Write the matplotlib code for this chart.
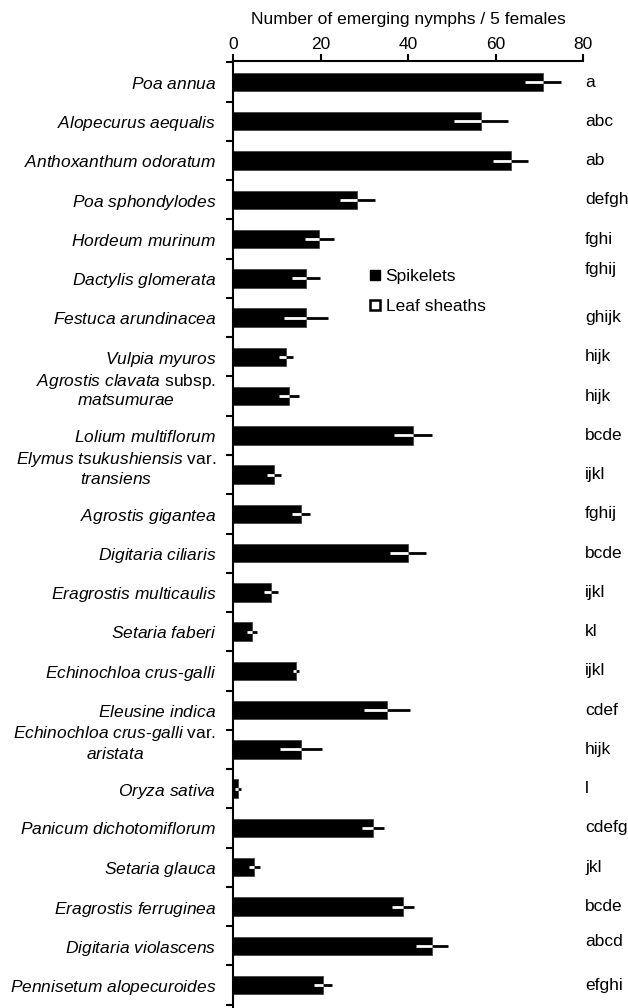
import matplotlib
matplotlib.use("Agg")
import matplotlib.pyplot as plt
from matplotlib.lines import Line2D
from matplotlib.transforms import ScaledTranslation

plt.rcParams['font.family'] = ['Liberation Sans', 'DejaVu Sans']
plt.rcParams['mathtext.fontset'] = 'custom'
plt.rcParams['mathtext.rm'] = 'Liberation Sans'
plt.rcParams['mathtext.it'] = 'Liberation Sans:italic'

species = [
    r"$\mathit{Poa\ annua}$",
    r"$\mathit{Alopecurus\ aequalis}$",
    r"$\mathit{Anthoxanthum\ odoratum}$",
    r"$\mathit{Poa\ sphondylodes}$",
    r"$\mathit{Hordeum\ murinum}$",
    r"$\mathit{Dactylis\ glomerata}$",
    r"$\mathit{Festuca\ arundinacea}$",
    r"$\mathit{Vulpia\ myuros}$",
    "$\\mathit{Agrostis\\ clavata}\\mathrm{\\ subsp.}$\n$\\mathit{matsumurae}$",
    r"$\mathit{Lolium\ multiflorum}$",
    "$\\mathit{Elymus\\ tsukushiensis}\\mathrm{\\ var.}$\n$\\mathit{transiens}$",
    r"$\mathit{Agrostis\ gigantea}$",
    r"$\mathit{Digitaria\ ciliaris}$",
    r"$\mathit{Eragrostis\ multicaulis}$",
    r"$\mathit{Setaria\ faberi}$",
    r"$\mathit{Echinochloa\ crus\text{-}galli}$",
    r"$\mathit{Eleusine\ indica}$",
    "$\\mathit{Echinochloa\\ crus\\text{-}galli}\\mathrm{\\ var.}$\n$\\mathit{aristata}$",
    r"$\mathit{Oryza\ sativa}$",
    r"$\mathit{Panicum\ dichotomiflorum}$",
    r"$\mathit{Setaria\ glauca}$",
    r"$\mathit{Eragrostis\ ferruginea}$",
    r"$\mathit{Digitaria\ violascens}$",
    r"$\mathit{Pennisetum\ alopecuroides}$",
]
spikelets = [70.8, 56.7, 63.5, 28.4, 19.7, 16.7, 16.7, 12.1, 12.8, 41.1, 9.4, 15.5,
             40.0, 8.7, 4.3, 14.4, 35.2, 15.5, 1.1, 32.0, 4.9, 38.9, 45.5, 20.5]
spikelet_err = [4.1, 6.2, 4.0, 4.0, 3.3, 3.2, 5.0, 1.6, 2.3, 4.3, 1.6, 2.0,
                4.1, 1.6, 1.2, 0.7, 5.3, 4.8, 0.7, 2.5, 1.3, 2.5, 3.6, 2.1]
leaf_sheaths = [0.0] * 24
letters = ["a", "abc", "ab", "defgh", "fghi", "fghij", "ghijk", "hijk", "hijk", "bcde",
           "ijkl", "fghij", "bcde", "ijkl", "kl", "ijkl", "cdef", "hijk", "l", "cdefg",
           "jkl", "bcde", "abcd", "efghi"]

fs = 12.5
fig = plt.figure(figsize=(6.28, 10.08), dpi=100)
ax = fig.add_axes([233/628, 0.0, 350/628, 1 - 61/1008])

y = list(range(len(species)))
ax.barh(y, spikelets, height=0.47, color='black', edgecolor='#444444', linewidth=0.6)
ax.barh(y, leaf_sheaths, height=0.47, color='white', edgecolor='black', linewidth=0.6)
ax.errorbar(spikelets, y, xerr=[[0]*24, spikelet_err], fmt='none', ecolor='black',
            elinewidth=2, capsize=0)
ax.errorbar(spikelets, y, xerr=[spikelet_err, [0]*24], fmt='none', ecolor='white',
            elinewidth=2, capsize=0)

# small vertical nudges (points) of the significance letters, as in the original
letter_nudge = {5: 6, 22: 3}
for yi, lt in zip(y, letters):
    tr = ax.transData + ScaledTranslation(0, letter_nudge.get(yi, 0) / 72, fig.dpi_scale_trans)
    ax.text(80.5, yi, lt, ha='left', va='center', fontsize=fs, clip_on=False, transform=tr)

ax.set_xlim(0, 80)
ax.set_ylim(23.585, -0.535)
ax.xaxis.tick_top()
ax.xaxis.set_label_position('top')
ax.set_xticks([0, 20, 40, 60, 80])
ax.set_xlabel("Number of emerging nymphs / 5 females", fontsize=fs, labelpad=9.3)
ax.tick_params(axis='x', labelsize=fs, length=5, width=1.5, direction='out', pad=1.7)

ax.set_yticks(y)
ax.set_yticklabels(species, fontsize=fs, ha='right', multialignment='center')
ax.tick_params(axis='y', which='major', length=0, pad=12)
ax.set_yticks([i + 0.5 for i in range(-1, 24)], minor=True)
ax.tick_params(axis='y', which='minor', length=5, width=1.5, direction='out')

for lab in ax.get_yticklabels():
    if "\n" in lab.get_text():
        lab.set_transform(lab.get_transform() + ScaledTranslation(0, 6.5 / 72, fig.dpi_scale_trans))

for s in ['right', 'bottom']:
    ax.spines[s].set_visible(False)
for s in ['top', 'left']:
    ax.spines[s].set_linewidth(1.5)

handles = [Line2D([], [], marker='s', color='none', markerfacecolor='black',
                  markeredgecolor='black', markersize=6.5, label='Spikelets'),
           Line2D([], [], marker='s', color='none', markerfacecolor='white',
                  markeredgecolor='black', markeredgewidth=1.8, markersize=6.5,
                  label='Leaf sheaths')]
fig.legend(handles=handles, loc='upper left', bbox_to_anchor=(370/628, 1 - 269/1008),
           frameon=False, fontsize=fs, handlelength=0.6, handletextpad=0.3,
           labelspacing=0.85, borderpad=0, borderaxespad=0)

fig.savefig("out.png", dpi=100)
